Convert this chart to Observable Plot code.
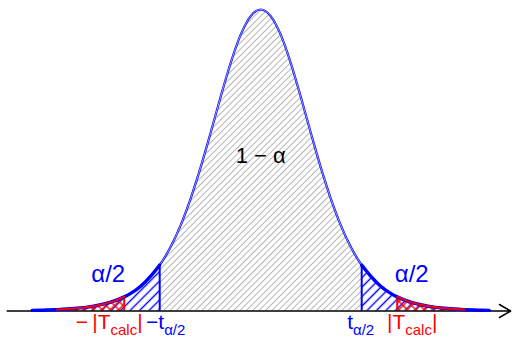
<!DOCTYPE html>
<html><head><meta charset="utf-8">
<script src="https://cdn.jsdelivr.net/npm/d3@7"></script>
<script src="https://cdn.jsdelivr.net/npm/@observablehq/plot@0.6"></script>
<style>body{margin:0;background:#fff} svg{display:block}</style>
</head><body><div id="chart"></div>
<script>
// Student-t density (x in t units, y = density)
const xs = [-4.57,-4.4,-4.2,-4.07,-3.8,-3.6,-3.4,-3.2,-3.0,-2.73,-2.6,-2.4,-2.2,-2.02,-1.8,-1.6,-1.4,-1.2,-1.0,-0.8,-0.6,-0.4,-0.2,
  0,0.2,0.4,0.6,0.8,1.0,1.2,1.4,1.6,1.8,2.02,2.2,2.4,2.6,2.73,3.0,3.2,3.4,3.6,3.8,4.07,4.2,4.4,4.57];
const density = [0.0008,0.0010,0.0015,0.0018,0.0029,0.0040,0.0057,0.0081,0.0114,0.0182,0.0227,0.0319,0.0449,0.0593,0.0828,0.1109,0.1454,0.1857,0.2304,0.2766,0.3203,0.3566,0.3806,
  0.3891,0.3806,0.3566,0.3203,0.2766,0.2304,0.1857,0.1454,0.1109,0.0828,0.0593,0.0449,0.0319,0.0227,0.0182,0.0114,0.0081,0.0057,0.0040,0.0029,0.0018,0.0015,0.0010,0.0008];

const tCrit = 2.02;      // t_{alpha/2}
const tCalc = 2.73;      // |T_calc|
const redEnd = 4.07;     // end of red tail line
const axisFrom = -5.07, axisTo = 5.0;

const centerLabel = "1 − α";
const tailLabel = "α/2";
const bottomLabels = [
  {text: "−\u2009|T_{calc}|", at: -tCalc, dx: -15, color: "#ff0000"},
  {text: "−t_{α/2}", at: -tCrit, dx: 6, color: "#0000ff"},
  {text: "t_{α/2}", at: tCrit, dx: -1, color: "#0000ff"},
  {text: "|T_{calc}|", at: tCalc, dx: 15, color: "#ff0000"}
];
const tailLabelAt = [-3.05, 3.02];
const tailLabelY = 0.0477, centerLabelY = 0.2006, bottomLabelY = -0.0148;

const pts = xs.map((x, i) => ({x, y: density[i]}));
const fAt = x => pts.find(d => Math.abs(d.x - x) < 1e-9).y;
const center = pts.filter(d => d.x >= -tCrit && d.x <= tCrit);
const leftTail = pts.filter(d => d.x <= -tCrit);
const rightTail = pts.filter(d => d.x >= tCrit);
const leftRed = pts.filter(d => d.x <= -tCalc);
const rightRed = pts.filter(d => d.x >= tCalc);
const leftRedLine = pts.filter(d => d.x <= -tCalc && d.x >= -redEnd);
const rightRedLine = pts.filter(d => d.x >= tCalc && d.x <= redEnd);
const curve = "monotone-x";
const blue = "#0000ff", red = "#ff0000";

const marks = [
  Plot.areaY(center, {x: "x", y: "y", fill: "url(#hatchGray)", curve}),
  Plot.areaY(leftTail, {x: "x", y: "y", fill: "url(#hatchBlue)", curve}),
  Plot.areaY(rightTail, {x: "x", y: "y", fill: "url(#hatchBlue)", curve}),
  Plot.areaY(leftRed, {x: "x", y: "y", fill: "url(#hatchRed)", curve}),
  Plot.areaY(rightRed, {x: "x", y: "y", fill: "url(#hatchRed)", curve}),
  Plot.ruleX([-tCrit, tCrit], {x: d => d, y1: () => 0, y2: d => fAt(d), stroke: blue, strokeWidth: 2}),
  Plot.ruleX([-tCalc, tCalc], {x: d => d, y1: () => 0, y2: d => fAt(d), stroke: red, strokeWidth: 2}),
  Plot.arrow([{a: axisFrom, b: axisTo}], {x1: "a", x2: "b", y1: () => 0, y2: () => 0, stroke: "black", strokeWidth: 1.5, headLength: 13, headAngle: 60}),
  Plot.line(pts, {x: "x", y: "y", stroke: blue, strokeWidth: 2.2, curve}),
  Plot.line(center, {x: "x", y: "y", stroke: "#c6c6ee", strokeWidth: 0.8, curve}),
  Plot.line(leftTail, {x: "x", y: "y", stroke: blue, strokeWidth: 3.4, curve}),
  Plot.line(rightTail, {x: "x", y: "y", stroke: blue, strokeWidth: 3.4, curve}),
  Plot.line(leftRedLine, {x: "x", y: "y", stroke: red, strokeWidth: 2, curve}),
  Plot.line(rightRedLine, {x: "x", y: "y", stroke: red, strokeWidth: 2, curve}),
  Plot.text([centerLabel], {x: () => 0, y: () => centerLabelY, text: d => d, fontSize: 22, fill: "black"}),
  Plot.text(tailLabelAt, {x: d => d, y: () => tailLabelY, text: () => tailLabel, fontSize: 24, fill: blue}),
  ...bottomLabels.map(l => Plot.text([l], {x: "at", y: () => bottomLabelY, text: "text", dx: l.dx, fontSize: 21, fill: l.color}))
];

const svg = Plot.plot({
  width: 512, height: 338, margin: 0,
  x: {domain: [-5.204, 5.036], axis: null},
  y: {domain: [-0.0355, 0.4007], axis: null},
  style: {fontFamily: "'Liberation Sans', Arial, sans-serif", background: "white"},
  marks
});

const defs = d3.select(svg).insert("defs", ":first-child");
function hatch(id, color, w, sw, cross) {
  const p = defs.append("pattern").attr("id", id).attr("patternUnits", "userSpaceOnUse")
    .attr("width", w).attr("height", w).attr("patternTransform", "rotate(45)");
  p.append("line").attr("x1", w / 2).attr("y1", 0).attr("x2", w / 2).attr("y2", w).attr("stroke", color).attr("stroke-width", sw);
  if (cross) p.append("line").attr("x1", 0).attr("y1", w / 2).attr("x2", w).attr("y2", w / 2).attr("stroke", color).attr("stroke-width", sw);
}
hatch("hatchGray", "#b4b4b4", 4.5, 1, false);
hatch("hatchBlue", blue, 6.7, 1.4, false);
hatch("hatchRed", red, 6, 1.4, true);

d3.select(svg).selectAll("text").each(function () {
  const s = this.textContent;
  const m = s.match(/^(.*)_\{(.*)\}(.*)$/);
  if (!m) return;
  const el = d3.select(this);
  el.text(null);
  el.append("tspan").text(m[1]);
  el.append("tspan").attr("font-size", 15).attr("dy", 6).text(m[2]);
  if (m[3]) el.append("tspan").attr("dy", -6).text(m[3]);
});

document.getElementById("chart").appendChild(svg);
</script>
</body></html>
